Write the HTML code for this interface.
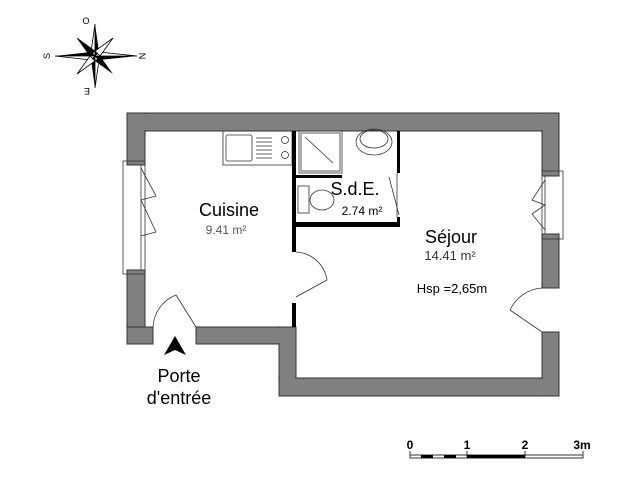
<!DOCTYPE html>
<html><head><meta charset="utf-8"><style>
html,body{margin:0;padding:0;background:#fff;}
svg{display:block;}
text{font-family:"Liberation Sans",Arial,sans-serif;}
</style></head><body>
<svg width="640" height="480" viewBox="0 0 640 480" xmlns="http://www.w3.org/2000/svg">
<rect width="640" height="480" fill="#fff"/>
<g transform="translate(95,56)">
<polygon points="0,-32 4,-4 0,0" fill="#000"/><polygon points="0,-32 -4,-4 0,0" fill="#fff" stroke="#000" stroke-width="0.8"/>
<polygon points="0,32 -4,4 0,0" fill="#000"/><polygon points="0,32 4,4 0,0" fill="#fff" stroke="#000" stroke-width="0.8"/>
<polygon points="-40,0 -4,-4 0,0" fill="#000"/><polygon points="-40,0 -4,4 0,0" fill="#fff" stroke="#000" stroke-width="0.8"/>
<polygon points="42,0 4,4 0,0" fill="#000"/><polygon points="42,0 4,-4 0,0" fill="#fff" stroke="#000" stroke-width="0.8"/>
<polygon points="-18,-18 0,-5 -5,0" fill="#000" stroke="#000" stroke-width="0.6"/>
<polygon points="18,-18 5,0 0,-5" fill="#fff" stroke="#000" stroke-width="0.8"/>
<polygon points="18,18 0,5 5,0" fill="#000"/>
<polygon points="-18,18 -5,0 0,5" fill="#fff" stroke="#000" stroke-width="0.8"/>
</g>
<text x="86" y="24" font-size="9" text-anchor="middle">O</text>
<text x="142" y="59" font-size="9" text-anchor="middle" transform="rotate(90 142 56)">N</text>
<text x="47" y="59" font-size="9" text-anchor="middle" transform="rotate(-90 47 56)">S</text>
<text x="87" y="96" font-size="9" text-anchor="middle" transform="rotate(180 87 92)">E</text>

<g fill="#808080" stroke="#333" stroke-width="1">
<rect x="127" y="113" width="432" height="18"/>
<rect x="127" y="113" width="18" height="52"/>
<rect x="127" y="270" width="18" height="74"/>
<rect x="127" y="327" width="26" height="17"/>
<rect x="196" y="327" width="100" height="17"/>
<rect x="279" y="327" width="17" height="69"/>
<rect x="279" y="378" width="280" height="18"/>
<rect x="542" y="113" width="17" height="63"/>
<rect x="542" y="234" width="17" height="54"/>
<rect x="542" y="332" width="17" height="64"/>
</g>
<rect x="128" y="114" width="430" height="16" fill="#808080"/>
<rect x="128" y="114" width="16" height="50" fill="#808080"/>
<rect x="280" y="328" width="15" height="67" fill="#808080"/>
<rect x="280" y="379" width="278" height="16" fill="#808080"/>
<rect x="128" y="328" width="24" height="15" fill="#808080"/>
<rect x="197" y="328" width="98" height="15" fill="#808080"/>
<rect x="543" y="114" width="15" height="61" fill="#808080"/>
<g fill="none" stroke="#333" stroke-width="0.8">
<rect x="123" y="161" width="22" height="113"/>
<line x1="141" y1="165" x2="141" y2="270"/>
<polyline points="141,168 156,196 141,200 156,232 141,236"/>
<rect x="542" y="171" width="21" height="68"/>
<line x1="545" y1="176" x2="545" y2="234"/>
<polyline points="545,180 532,200 545,205 532,214 545,230"/>
<line x1="176" y1="295" x2="196" y2="327"/>
<path d="M176,295 A36,36 0 0 0 153,327"/>
<line x1="296" y1="297" x2="327" y2="280"/>
<path d="M327,280 A33,33 0 0 0 296,252"/>
<line x1="542" y1="332" x2="510" y2="310"/>
<path d="M510,310 A38,38 0 0 1 542,288"/>
<line x1="397" y1="173" x2="397" y2="217"/>
<polyline points="389,177 399,215"/>
<rect x="223" y="131" width="69" height="34"/>
<rect x="226" y="135" width="26" height="26" rx="2"/>
<circle cx="285" cy="140" r="3.5"/><circle cx="285" cy="155" r="3.5"/>
<rect x="299" y="131" width="43" height="42"/>
<rect x="301" y="133" width="39" height="38"/>
<line x1="305" y1="137" x2="333" y2="163"/>
<ellipse cx="374" cy="142" rx="18" ry="13"/>
<ellipse cx="374" cy="139" rx="14" ry="9"/>
<rect x="298" y="186" width="11" height="27"/>
<ellipse cx="322" cy="200" rx="12" ry="10"/>
</g>
<g stroke="#333" stroke-width="0.8">
<line x1="256" y1="138" x2="272" y2="138"/><line x1="256" y1="142" x2="272" y2="142"/><line x1="256" y1="146" x2="272" y2="146"/><line x1="256" y1="150" x2="272" y2="150"/><line x1="256" y1="154" x2="272" y2="154"/><line x1="256" y1="158" x2="272" y2="158"/>
</g>
<g fill="#000">
<rect x="292" y="131" width="4" height="121"/>
<rect x="292" y="303" width="4" height="24"/>
<rect x="292" y="222" width="108" height="5"/>
<rect x="296" y="175" width="46" height="3"/>
<rect x="397" y="131" width="3" height="42"/>
<rect x="397" y="217" width="3" height="10"/>
</g>
<text x="229" y="216" font-size="18" text-anchor="middle">Cuisine</text>
<text x="226" y="234" font-size="12" fill="#555" text-anchor="middle">9.41 m²</text>
<text x="355" y="195" font-size="18" text-anchor="middle">S.d.E.</text>
<text x="362" y="215" font-size="12" text-anchor="middle">2.74 m²</text>
<text x="451" y="243" font-size="18" text-anchor="middle">Séjour</text>
<text x="450" y="260" font-size="13" fill="#333" text-anchor="middle">14.41 m²</text>
<text x="452" y="293" font-size="13" text-anchor="middle">Hsp =2,65m</text>
<polygon points="175,336 164,355 175,350 186,355" fill="#000"/>
<text x="179" y="382" font-size="18" text-anchor="middle">Porte</text>
<text x="179" y="404" font-size="18" text-anchor="middle">d'entrée</text>
<g font-size="12" font-weight="bold" text-anchor="middle">
<text x="410" y="449">0</text><text x="467" y="449">1</text><text x="525" y="449">2</text><text x="582" y="449">3m</text>
</g>
<g stroke="#333" stroke-width="1" fill="none">
<line x1="410" y1="451" x2="410" y2="458"/><line x1="467" y1="451" x2="467" y2="458"/><line x1="525" y1="451" x2="525" y2="458"/><line x1="583" y1="451" x2="583" y2="458"/>
<rect x="410" y="455" width="173" height="3"/>
</g>
<rect x="421" y="455" width="12" height="3" fill="#000"/>
<rect x="444" y="455" width="12" height="3" fill="#000"/>
<rect x="467" y="455" width="58" height="3" fill="#000"/>
</svg>
</body></html>
